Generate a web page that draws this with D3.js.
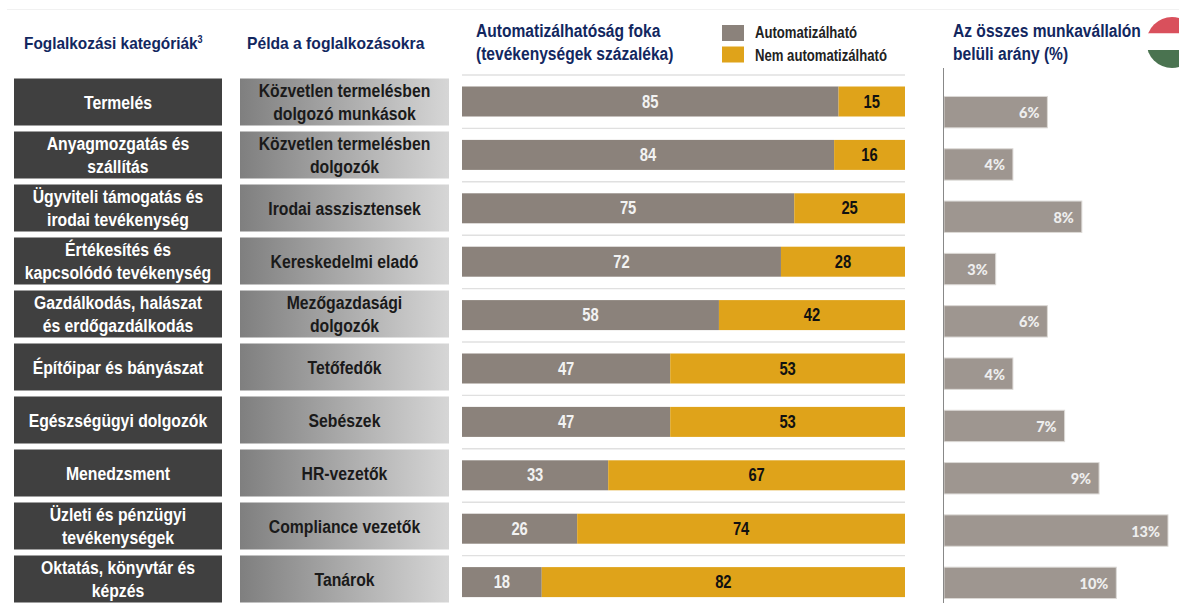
<!DOCTYPE html>
<html>
<head>
<meta charset="utf-8">
<script src="https://cdnjs.cloudflare.com/ajax/libs/d3/7.8.5/d3.min.js"></script>
<style>
  html, body { margin: 0; padding: 0; background: #fff; }
  svg { display: block; }
  text { font-family: "Liberation Sans", Arial, sans-serif; font-weight: bold; }
  .pct { font-family: Lato, "Liberation Sans", sans-serif; font-weight: 900; }
</style>
</head>
<body>
<div id="chart"></div>
<script>
// values
const categories = [
  ["Termelés"],
  ["Anyagmozgatás és", "szállítás"],
  ["Ügyviteli támogatás és", "irodai tevékenység"],
  ["Értékesítés és", "kapcsolódó tevékenység"],
  ["Gazdálkodás, halászat", "és erdőgazdálkodás"],
  ["Építőipar és bányászat"],
  ["Egészségügyi dolgozók"],
  ["Menedzsment"],
  ["Üzleti és pénzügyi", "tevékenységek"],
  ["Oktatás, könyvtár és", "képzés"]
];
const examples = [
  ["Közvetlen termelésben", "dolgozó munkások"],
  ["Közvetlen termelésben", "dolgozók"],
  ["Irodai asszisztensek"],
  ["Kereskedelmi eladó"],
  ["Mezőgazdasági", "dolgozók"],
  ["Tetőfedők"],
  ["Sebészek"],
  ["HR-vezetők"],
  ["Compliance vezetők"],
  ["Tanárok"]
];
const automatable = [85, 84, 75, 72, 58, 47, 47, 33, 26, 18];
const notAutomatable = [15, 16, 25, 28, 42, 53, 53, 67, 74, 82];
const shares = [6, 4, 8, 3, 6, 4, 7, 9, 13, 10];
const legendLabels = ["Automatizálható", "Nem automatizálható"];

const width = 1179, height = 603;
const grey = "#8b827b", gold = "#dfa31a", shareGrey = "#9e9690", navy = "#12275f";

const svg = d3.select("#chart").append("svg")
    .attr("width", width)
    .attr("height", height);

const defs = svg.append("defs");
const grad = defs.append("linearGradient").attr("id", "exampleFill");
grad.append("stop").attr("offset", "0%").attr("stop-color", "#7f7f7f");
grad.append("stop").attr("offset", "100%").attr("stop-color", "#d6d6d6");

const rows = d3.range(categories.length);
// the three columns do not share quite the same row pitch in the picture
const y = d3.scaleBand().domain(rows).range([75.5, 605.5]);
const yStack = d3.scaleBand().domain(rows).range([75, 609]);
const yShare = d3.scaleBand().domain(rows).range([86, 609]).paddingInner(0.4).paddingOuter(0.2);
const xStack = d3.scaleLinear().domain([0, 100]).range([462, 905]);
const xShare = d3.scaleLinear().domain([0, 13]).range([944, 1168]);

// the original uses a narrow face that is not installed, so squeeze the glyphs
function squeeze(sel, f) {
  sel.each(function() {
    this.setAttribute("textLength", this.getComputedTextLength() * f);
    this.setAttribute("lengthAdjust", "spacingAndGlyphs");
  });
}

// top hairline
svg.append("line").attr("x1", 7).attr("x2", 1179).attr("y1", 9.5).attr("y2", 9.5)
    .attr("stroke", "#f1f1f1");

function lines(sel, cx, cy, getLines, fill, size) {
  sel.each(function(d) {
    const l = getLines(d);
    const g = d3.select(this);
    l.forEach((s, i) => {
      g.append("text")
          .attr("text-anchor", "middle")
          .attr("fill", fill)
          .attr("font-size", size)
          .attr("x", cx)
          .attr("y", cy(d) + (i - (l.length - 1) / 2) * 23 + size * 0.35)
          .text(s)
          .call(squeeze, 0.9);
    });
  });
}

const rowG = svg.append("g").selectAll("g").data(rows).join("g");

// category boxes
rowG.append("rect")
    .attr("x", 14).attr("width", 208)
    .attr("y", d => y(d) + 3).attr("height", y.bandwidth() - 6)
    .attr("fill", "#404040");
lines(rowG, 118, d => y(d) + y.bandwidth() / 2 + 0.5, d => categories[d], "#fff", 17.5);

// example boxes
rowG.append("rect")
    .attr("x", 240).attr("width", 209)
    .attr("y", d => y(d) + 3).attr("height", y.bandwidth() - 6)
    .attr("fill", "url(#exampleFill)");
lines(rowG, 344.5, d => y(d) + y.bandwidth() / 2 + 0.5, d => examples[d], "#1a1a1a", 17.5);

// separators above each stacked bar
rowG.append("line")
    .attr("x1", xStack(0)).attr("x2", xStack(100))
    .attr("y1", d => yStack(d)).attr("y2", d => yStack(d))
    .attr("stroke", "#e0e0e0").attr("stroke-width", 1.4);

// stacked bars
rowG.append("rect")
    .attr("x", xStack(0))
    .attr("width", d => xStack(automatable[d]) - xStack(0))
    .attr("y", d => yStack(d) + 11.5).attr("height", 30)
    .attr("fill", grey);
rowG.append("rect")
    .attr("x", d => xStack(automatable[d]))
    .attr("width", d => xStack(100) - xStack(automatable[d]))
    .attr("y", d => yStack(d) + 11.5).attr("height", 30)
    .attr("fill", gold);
rowG.append("text")
    .attr("x", d => xStack(automatable[d] / 2))
    .attr("y", d => yStack(d) + 32.5)
    .attr("text-anchor", "middle").attr("fill", "#f2f2f2").attr("font-size", 18)
    .text(d => automatable[d])
    .call(squeeze, 0.82);
rowG.append("text")
    .attr("x", d => xStack(automatable[d] + notAutomatable[d] / 2))
    .attr("y", d => yStack(d) + 32.5)
    .attr("text-anchor", "middle").attr("fill", "#111").attr("font-size", 18)
    .text(d => notAutomatable[d])
    .call(squeeze, 0.82);

// share bars
svg.append("line").attr("x1", 943.5).attr("x2", 943.5).attr("y1", 68).attr("y2", 603)
    .attr("stroke", "#888").attr("stroke-width", 1);
rowG.append("rect")
    .attr("x", xShare(0))
    .attr("width", d => xShare(shares[d]) - xShare(0))
    .attr("y", d => yShare(d)).attr("height", yShare.bandwidth())
    .attr("fill", shareGrey)
    .attr("stroke", "#dcd9d6").attr("stroke-width", 1);
rowG.append("text")
    .attr("class", "pct")
    .attr("x", d => xShare(shares[d]) - 8)
    .attr("y", d => yShare(d) + yShare.bandwidth() / 2 + 6)
    .attr("text-anchor", "end").attr("fill", "#eee").attr("font-size", 14.5)
    .text(d => shares[d] + "%");

// column headers
function header(x, ys, strs, size, f) {
  strs.forEach((s, i) => {
    svg.append("text").attr("x", x).attr("y", ys[i])
        .attr("fill", navy).attr("font-size", size).text(s)
        .call(squeeze, f);
  });
}
const h1 = svg.append("text").attr("x", 24).attr("y", 49).attr("fill", navy).attr("font-size", 17);
h1.append("tspan").text("Foglalkozási kategóriák");
h1.append("tspan").attr("font-size", 10).attr("dy", -6).text("3");
h1.call(squeeze, 0.905);
header(247, [49], ["Példa a foglalkozásokra"], 17, 0.92);
header(476, [36.5, 60], ["Automatizálhatóság foka", "(tevékenységek százaléka)"], 17.5, 0.89);
header(953, [36.5, 60], ["Az összes munkavállalón", "belüli arány (%)"], 17.5, 0.89);

// legend
const legendColors = [grey, gold];
legendLabels.forEach((s, i) => {
  svg.append("rect").attr("x", 722).attr("y", 25 + i * 21.5).attr("width", 22).attr("height", 16)
      .attr("fill", legendColors[i]);
  svg.append("text").attr("x", 755).attr("y", 38 + i * 23).attr("fill", "#222")
      .attr("font-size", 16).text(s)
      .call(squeeze, 0.82);
});

// flag
defs.append("clipPath").attr("id", "flagClip").append("circle").attr("cx", 1172).attr("cy", 42.5).attr("r", 25.5);
const fg = svg.append("g").attr("clip-path", "url(#flagClip)");
fg.append("rect").attr("x", 1140).attr("y", 17).attr("width", 39).attr("height", 16.5).attr("fill", "#d9505c");
fg.append("rect").attr("x", 1140).attr("y", 33.5).attr("width", 39).attr("height", 16.5).attr("fill", "#fff");
fg.append("rect").attr("x", 1140).attr("y", 50).attr("width", 39).attr("height", 18).attr("fill", "#4a7350");
</script>
</body>
</html>
